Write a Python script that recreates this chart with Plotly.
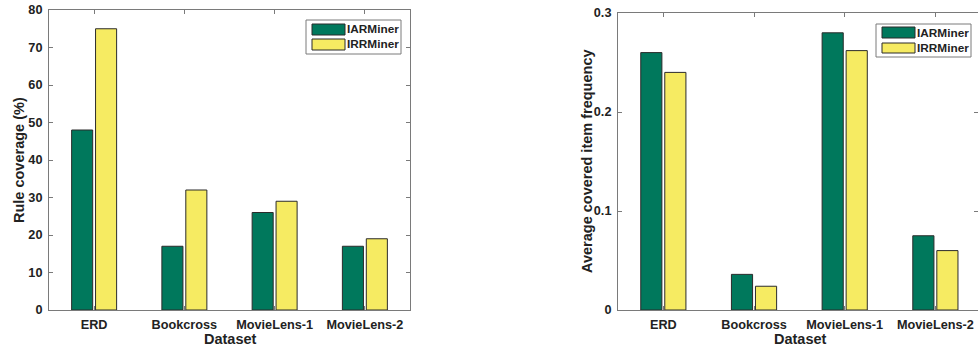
import plotly.graph_objects as go

W, H = 978, 349

datasets = ["ERD", "Bookcross", "MovieLens-1", "MovieLens-2"]
series_names = ["IARMiner", "IRRMiner"]
coverage_iar = [48, 17, 26, 17]
coverage_irr = [75, 32, 29, 19]
freq_iar = [0.26, 0.036, 0.28, 0.075]
freq_irr = [0.24, 0.024, 0.262, 0.06]
cov_ticks = [0, 10, 20, 30, 40, 50, 60, 70, 80]
freq_ticks = [0, 0.1, 0.2, 0.3]
freq_ticklabels = ["0", "0.1", "0.2", "0.3"]

GREEN = "#00785C"
YELLOW = "#F6EB62"
EDGE = "#2b2b2b"
AXIS = "#7a7a7a"
TXT = "#222222"
FONT = "Liberation Sans"

def px(x):
    return x / W

def py(y):
    return 1 - y / H

fig = go.Figure()
colors = [GREEN, YELLOW]
for i, (vals, name) in enumerate(zip([coverage_iar, coverage_irr], series_names)):
    fig.add_trace(go.Bar(x=datasets, y=vals, name=name, marker=dict(color=colors[i], line=dict(color=EDGE, width=1)),
                         xaxis="x", yaxis="y", showlegend=False))
for i, (vals, name) in enumerate(zip([freq_iar, freq_irr], series_names)):
    fig.add_trace(go.Bar(x=datasets, y=vals, name=name, marker=dict(color=colors[i], line=dict(color=EDGE, width=1)),
                         xaxis="x2", yaxis="y2", showlegend=False))

tickfont = dict(family=FONT, size=12.7, color=TXT, weight="bold")
common_x = dict(type="category", showline=True, linecolor=AXIS, linewidth=1, mirror="ticks",
                ticks="inside", ticklen=4, tickcolor=AXIS, tickfont=tickfont, showgrid=False,
                zeroline=False, fixedrange=True, ticklabelstandoff=3, automargin=False)
common_y = dict(showline=True, linecolor=AXIS, linewidth=1, mirror="ticks", ticks="inside",
                ticklen=4, tickcolor=AXIS, tickfont=tickfont, showgrid=False, zeroline=False,
                fixedrange=True, ticklabelstandoff=3, automargin=False)

fig.update_layout(
    template="none",
    width=W, height=H, margin=dict(l=0, r=0, t=0, b=0, autoexpand=False),
    paper_bgcolor="white", plot_bgcolor="white",
    barmode="group", bargap=0.47, bargroupgap=0.12,
    xaxis=dict(common_x, domain=[px(49), px(410)], range=[-0.5, 3.5], anchor="y"),
    yaxis=dict(common_y, domain=[py(310), py(10)], range=[0, 80], tickvals=cov_ticks, anchor="x"),
    xaxis2=dict(common_x, domain=[px(618), 1.0], range=[-0.5, 3.47], anchor="y2"),
    yaxis2=dict(common_y, domain=[py(310), py(13)], range=[0, 0.3], tickvals=freq_ticks,
                ticktext=freq_ticklabels, anchor="x2"),
)

titlefont = dict(family=FONT, size=14.5, color=TXT, weight="bold")
base = dict(xref="paper", yref="paper", showarrow=False, xanchor="center", yanchor="middle")
ann = [
    dict(base, text="Dataset", x=px(230), y=py(339), font=titlefont),
    dict(base, text="Dataset", x=px(800), y=py(339), font=titlefont),
    dict(base, text="Rule coverage (%)", x=px(19), y=py(160), font=titlefont, textangle=-90),
    dict(base, text="Average covered item frequency", x=px(587), y=py(161), font=titlefont, textangle=-90),
]

shapes = []
legfont = dict(family=FONT, size=11.8, color=TXT, weight="bold")

def add_legend(x0, y0, x1, y1, sw_x0, sw_x1, rows, text_x):
    shapes.append(dict(type="rect", xref="paper", yref="paper", x0=px(x0), x1=px(x1), y0=py(y1), y1=py(y0),
                       line=dict(color=AXIS, width=1), fillcolor="white", layer="above"))
    for (ry0, ry1), col, name in zip(rows, colors, series_names):
        shapes.append(dict(type="rect", xref="paper", yref="paper", x0=px(sw_x0), x1=px(sw_x1),
                           y0=py(ry1), y1=py(ry0), line=dict(color=EDGE, width=1), fillcolor=col, layer="above"))
        ann.append(dict(base, text=name, x=px(text_x), y=py((ry0 + ry1) / 2), xanchor="left", font=legfont))

add_legend(306, 20, 401, 54, 312, 345, [(24, 35), (39, 50)], 345)
add_legend(876, 24, 971, 57, 882, 915, [(27, 38), (43, 53)], 915)

fig.update_layout(annotations=ann, shapes=shapes)
fig.write_html("out.html")
